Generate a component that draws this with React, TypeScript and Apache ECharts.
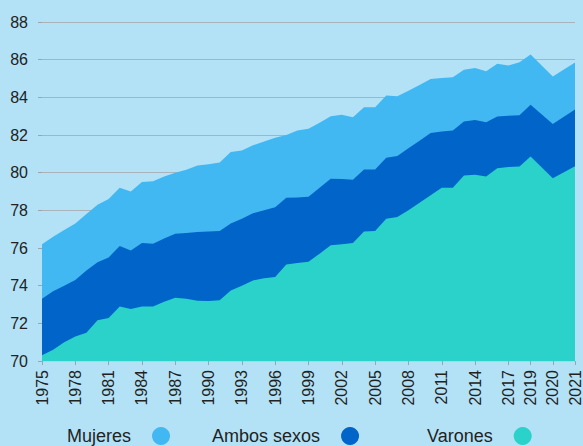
import React, { useEffect, useRef } from "react";
import * as echarts from "echarts";

const years: number[] = [
  1975, 1976, 1977, 1978, 1979, 1980, 1981, 1982, 1983, 1984, 1985, 1986, 1987, 1988, 1989,
  1990, 1991, 1992, 1993, 1994, 1995, 1996, 1997, 1998, 1999, 2000, 2001, 2002, 2003, 2004,
  2005, 2006, 2007, 2008, 2009, 2010, 2011, 2012, 2013, 2014, 2015, 2016, 2017, 2018, 2019,
  2020, 2021,
];

const mujeres: number[] = [
  76.2, 76.6, 76.95, 77.3, 77.8, 78.3, 78.6, 79.2, 79.0, 79.5, 79.55, 79.8, 80.0, 80.15, 80.38,
  80.45, 80.54, 81.1, 81.18, 81.45, 81.65, 81.85, 82.0, 82.24, 82.33, 82.65, 83.0, 83.07, 82.94, 83.47,
  83.47, 84.1, 84.06, 84.35, 84.65, 84.98, 85.03, 85.07, 85.46, 85.56, 85.38, 85.78, 85.69, 85.86, 86.27,
  85.1, 85.85,
];

const ambos: number[] = [
  73.3, 73.7, 74.0, 74.3, 74.8, 75.25, 75.5, 76.1, 75.87, 76.26, 76.23, 76.5, 76.76, 76.8, 76.85,
  76.87, 76.9, 77.3, 77.55, 77.85, 78.0, 78.17, 78.67, 78.68, 78.72, 79.2, 79.68, 79.66, 79.62, 80.17,
  80.17, 80.79, 80.88, 81.3, 81.7, 82.1, 82.19, 82.24, 82.72, 82.8, 82.68, 82.98, 83.02, 83.05, 83.6,
  82.59, 83.35,
];

const varones: number[] = [
  70.3, 70.6, 71.0, 71.3, 71.5, 72.16, 72.28, 72.9, 72.76, 72.9, 72.9, 73.15, 73.36, 73.31, 73.2,
  73.18, 73.22, 73.75, 74.0, 74.28, 74.4, 74.46, 75.13, 75.2, 75.27, 75.7, 76.14, 76.2, 76.26, 76.88,
  76.9, 77.55, 77.64, 78.0, 78.4, 78.8, 79.2, 79.2, 79.85, 79.89, 79.8, 80.24, 80.3, 80.33, 80.86,
  79.71, 80.34,
];

const shownLabels: string[] = [
  "1975", "1978", "1981", "1984", "1987", "1990", "1993", "1996", "1999", "2002",
  "2005", "2008", "2011", "2014", "2017", "2019", "2020", "2021",
];

const seriesNames = ["Mujeres", "Ambos sexos", "Varones"];
const colors = ["#41b8f2", "#0064c8", "#2bd2c9"];

// Category slots: the reference draws 2020 and 2021 about two slots apart.
const slots: string[] = [];
const slotIndexOfYear: number[] = [];
let gapCount = 0;
years.forEach((y) => {
  if (y >= 2020) {
    slots.push(" ".repeat(++gapCount));
  }
  slotIndexOfYear.push(slots.length);
  slots.push(String(y));
});

function toSlots(values: number[]): (number | null)[] {
  const out: (number | null)[] = slots.map(() => null);
  values.forEach((v, i) => {
    out[slotIndexOfYear[i]] = v;
  });
  return out;
}

const FONT = "'Liberation Sans', Arial, sans-serif";

export default function App() {
  const ref = useRef<HTMLDivElement>(null);

  useEffect(() => {
    if (!ref.current) return;
    const chart = echarts.init(ref.current, undefined, { renderer: "svg" });
    const shown = new Set(shownLabels);
    const seriesData = [mujeres, ambos, varones];
    const legendLefts = [67, 212, 427];

    chart.setOption({
      animation: false,
      backgroundColor: "#b3e2f7",
      textStyle: { fontFamily: FONT },
      grid: { left: 42, right: 4, top: 22, bottom: 85, containLabel: false },
      legend: seriesNames.map((name, i) => ({
        data: [name],
        left: legendLefts[i],
        top: 427,
        padding: 0,
        align: "right",
        icon: "circle",
        itemWidth: 18,
        itemHeight: 18,
        selectedMode: false,
        textStyle: {
          fontFamily: FONT,
          fontSize: 18,
          color: "#222",
          padding: [0, 16, 0, 0],
        },
      })),
      xAxis: {
        type: "category",
        data: slots,
        boundaryGap: false,
        axisLine: { show: true, lineStyle: { color: "#c3cdd3", width: 1 } },
        axisTick: {
          show: true,
          length: 4,
          interval: (_i: number, v: string) => shown.has(v),
          lineStyle: { color: "#9aa5ad" },
        },
        axisLabel: {
          rotate: 90,
          margin: 9,
          fontSize: 16,
          color: "#222",
          fontFamily: FONT,
          interval: (_i: number, v: string) => shown.has(v),
        },
        splitLine: { show: false },
      },
      yAxis: {
        type: "value",
        min: 70,
        max: 88,
        interval: 2,
        axisLine: { show: false },
        axisTick: { show: true, length: 4, lineStyle: { color: "#9aa5ad" } },
        axisLabel: { fontSize: 16, color: "#222", margin: 14, fontFamily: FONT },
        splitLine: { show: true, lineStyle: { color: "#a9b3b9", width: 1 } },
      },
      series: seriesNames.map((name, i) => ({
        name,
        type: "line",
        data: toSlots(seriesData[i]),
        connectNulls: true,
        symbol: "none",
        showSymbol: false,
        color: colors[i],
        lineStyle: { width: 0, color: colors[i] },
        areaStyle: { color: colors[i], opacity: 1 },
        z: 2 + i,
      })),
    });

    return () => chart.dispose();
  }, []);

  return (
    <div
      ref={ref}
      style={{ position: "absolute", left: 0, top: 0, width: 583, height: 446 }}
    />
  );
}
